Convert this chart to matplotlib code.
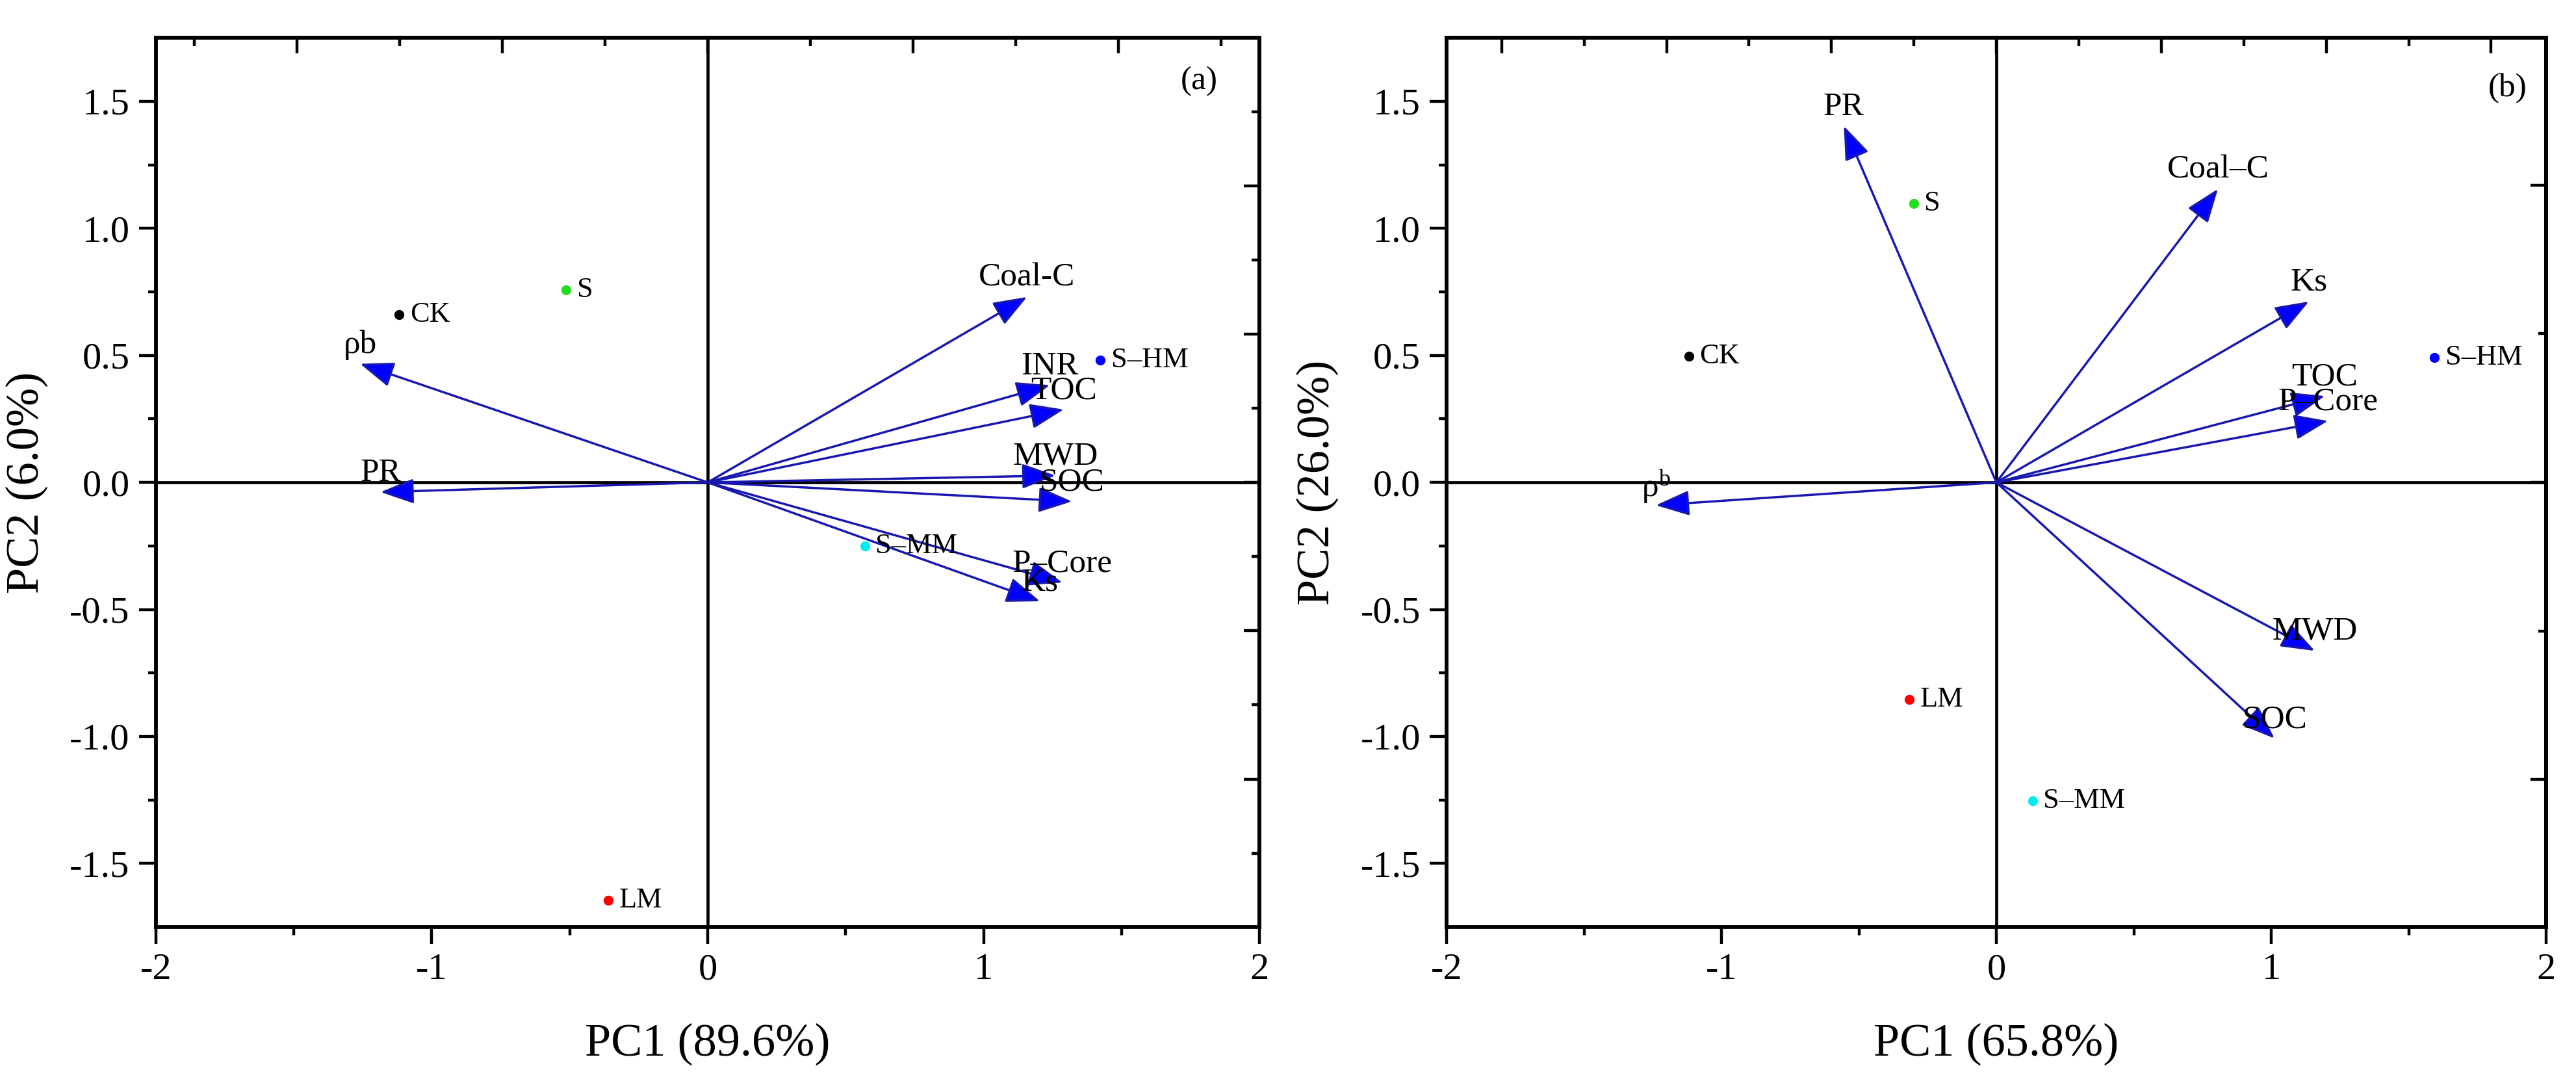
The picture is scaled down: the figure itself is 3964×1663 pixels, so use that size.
import matplotlib
matplotlib.use("Agg")
import matplotlib.pyplot as plt
import numpy as np

plt.rcParams['font.family'] = ['Liberation Serif', 'DejaVu Serif']
plt.rcParams['mathtext.fontset'] = 'custom'
plt.rcParams['mathtext.rm'] = 'Liberation Serif'
plt.rcParams['mathtext.it'] = 'Liberation Serif:italic'
plt.rcParams['axes.unicode_minus'] = False

# ---------------- data ----------------
samples = ['CK', 'S', 'S–HM', 'S–MM', 'LM']
sample_colors = ['#000000', '#22DD22', '#0000FF', '#00EEEE', '#FF0000']

# panel (a)
a_sample_pc1 = [-1.118, -0.513, 1.422, 0.569, -0.361]
a_sample_pc2 = [0.660, 0.758, 0.481, -0.250, -1.644]
a_vars = ['Coal-C', 'INR', 'TOC', 'MWD', 'SOC', 'P–Core', 'Ks', 'ρb', 'PR']
a_load_pc1 = [1.157, 1.240, 1.290, 1.260, 1.320, 1.285, 1.204, -1.260, -1.186]
a_load_pc2 = [0.730, 0.383, 0.287, 0.027, -0.075, -0.394, -0.468, 0.467, -0.038]

# panel (b)
b_sample_pc1 = [-1.119, -0.301, 1.594, 0.131, -0.316]
b_sample_pc2 = [0.497, 1.099, 0.491, -1.254, -0.855]
b_vars = ['PR', 'Coal–C', 'Ks', 'TOC', 'P–Core', 'MWD', 'SOC', 'ρ$^{\\rm b}$']
b_load_pc1 = [-0.555, 0.806, 1.137, 1.195, 1.206, 1.158, 1.012, -1.239]
b_load_pc2 = [1.403, 1.155, 0.712, 0.340, 0.242, -0.663, -1.008, -0.090]

x_ticks = [-2, -1, 0, 1, 2]
y_ticks = [-1.5, -1.0, -0.5, 0.0, 0.5, 1.0, 1.5]
y_ticklabels = ['-1.5', '-1.0', '-0.5', '0.0', '0.5', '1.0', '1.5']

panels = [
    dict(pos=[0.0605, 0.1425, 0.4285, 0.8225], spc1=a_sample_pc1, spc2=a_sample_pc2,
         vars=a_vars, l1=a_load_pc1, l2=a_load_pc2, xlabel='PC1 (89.6%)', ylabel='PC2 (6.0%)',
         tag='(a)', tagxy=(1.78, 1.58), top_step=0.372, right_step=0.292),
    dict(pos=[0.5616, 0.1425, 0.4268, 0.8225], spc1=b_sample_pc1, spc2=b_sample_pc2,
         vars=b_vars, l1=b_load_pc1, l2=b_load_pc2, xlabel='PC1 (65.8%)', ylabel='PC2 (26.0%)',
         tag='(b)', tagxy=(1.86, 1.55), top_step=0.300, right_step=0.585),
]

fig = plt.figure(figsize=(39.64, 16.63), dpi=100)

LINE_C = '#1818B0'
HEAD_C = '#0000FF'

for p in panels:
    ax = fig.add_axes(p['pos'])
    ax.set_xlim(-2, 2)
    ax.set_ylim(-1.75, 1.75)
    for s in ax.spines.values():
        s.set_linewidth(4.2)
    ax.axhline(0, color='black', lw=3.4, zorder=1)
    ax.axvline(0, color='black', lw=3.4, zorder=1)

    ax.set_xticks(x_ticks)
    ax.set_xticklabels([str(t) for t in x_ticks])
    ax.set_xticks([-1.5, -0.5, 0.5, 1.5], minor=True)
    ax.set_yticks(y_ticks)
    ax.set_yticklabels(y_ticklabels)
    ax.set_yticks([-1.25, -0.75, -0.25, 0.25, 0.75, 1.25], minor=True)
    ax.tick_params(which='major', direction='out', length=19, width=3.2,
                   labelsize=42, pad=10, top=False, right=False)
    ax.tick_params(which='minor', direction='out', length=9, width=3.2,
                   top=False, right=False)

    # opposite axes with their own tick spacing (inward, no labels)
    st = p['top_step']
    tmaj = [k * 2 * st for k in range(-6, 7) if abs(k * 2 * st) < 2]
    tmin = [(2 * k + 1) * st for k in range(-6, 6) if abs((2 * k + 1) * st) < 2]
    top = ax.secondary_xaxis('top')
    top.set_xticks(tmaj)
    top.set_xticks(tmin, minor=True)
    top.tick_params(which='major', direction='in', length=17, width=3.2, labeltop=False)
    top.tick_params(which='minor', direction='in', length=9, width=3.2, labeltop=False)
    top.spines['top'].set_linewidth(4.2)

    sr = p['right_step']
    rmaj = [k * 2 * sr for k in range(-6, 7) if abs(k * 2 * sr) < 1.75]
    rmin = [(2 * k + 1) * sr for k in range(-6, 6) if abs((2 * k + 1) * sr) < 1.75]
    right = ax.secondary_yaxis('right')
    right.set_yticks(rmaj)
    right.set_yticks(rmin, minor=True)
    right.tick_params(which='major', direction='in', length=17, width=3.2, labelright=False)
    right.tick_params(which='minor', direction='in', length=9, width=3.2, labelright=False)
    right.spines['right'].set_linewidth(4.2)

    # loading arrows
    for name, x, y in zip(p['vars'], p['l1'], p['l2']):
        ax.annotate('', xy=(x, y), xytext=(0, 0),
                    arrowprops=dict(arrowstyle='-|>,head_length=0.8,head_width=0.3',
                                    mutation_scale=40, lw=2.5, fc=HEAD_C, ec=LINE_C,
                                    shrinkA=0, shrinkB=0), zorder=3)
        ax.annotate(name, xy=(x, y), xytext=(0, 21), textcoords='offset points',
                    ha='center', va='center', fontsize=37, zorder=4)

    # sample scores
    for name, x, y, c in zip(samples, p['spc1'], p['spc2'], sample_colors):
        ax.plot(x, y, 'o', color=c, ms=10, mec=c, zorder=5)
        ax.annotate(name, xy=(x, y), xytext=(12, 0), textcoords='offset points',
                    ha='left', va='center', fontsize=32, zorder=5)

    ax.text(p['tagxy'][0], p['tagxy'][1], p['tag'], ha='center', va='center', fontsize=37)
    ax.set_xlabel(p['xlabel'], fontsize=52, labelpad=40)
    ax.set_ylabel(p['ylabel'], fontsize=52, labelpad=24)

fig.savefig('out.png', dpi=100)
